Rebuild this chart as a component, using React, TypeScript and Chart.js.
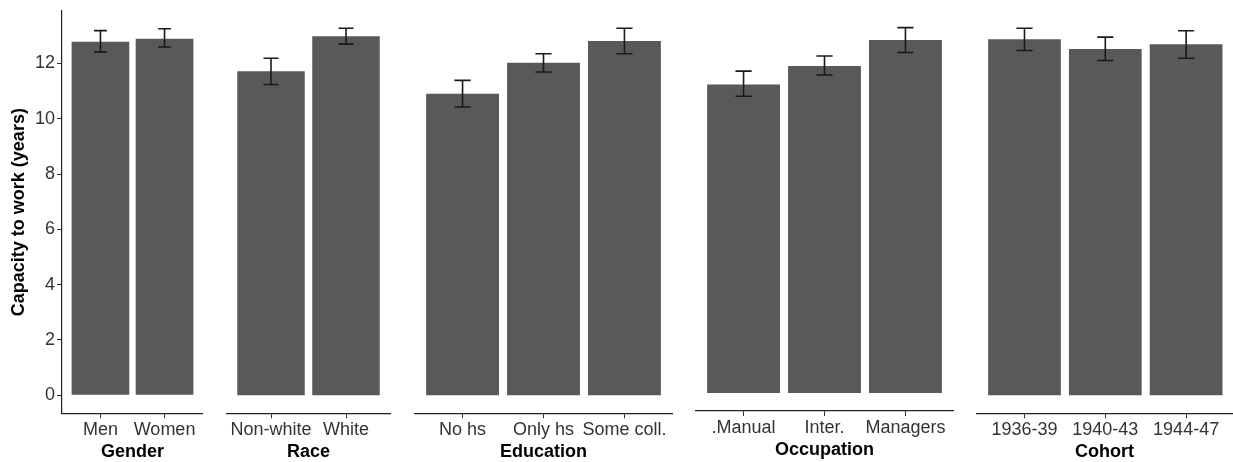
import React, { useEffect, useRef } from "react";
import { Chart, registerables } from "chart.js";

Chart.register(...registerables);

// ---------- data ----------
const genderLabels = ["Men", "Women"];
const genderValues = [12.79, 12.9];
const genderLow = [12.42, 12.6];
const genderHigh = [13.19, 13.26];

const raceLabels = ["Non-white", "White"];
const raceValues = [11.69, 12.95];
const raceLow = [11.21, 12.67];
const raceHigh = [12.16, 13.24];

const educationLabels = ["No hs", "Only hs", "Some coll."];
const educationValues = [10.88, 12.0, 12.78];
const educationLow = [10.4, 11.66, 12.32];
const educationHigh = [11.36, 12.32, 13.24];

const occupationLabels = [".Manual", "Inter.", "Managers"];
const occupationValues = [11.2, 11.87, 12.81];
const occupationLow = [10.77, 11.54, 12.36];
const occupationHigh = [11.68, 12.23, 13.26];

const cohortLabels = ["1936-39", "1940-43", "1944-47"];
const cohortValues = [12.84, 12.49, 12.66];
const cohortLow = [12.44, 12.08, 12.16];
const cohortHigh = [13.24, 12.92, 13.15];

const yTickValues = [0, 2, 4, 6, 8, 10, 12];
const yTitle = "Capacity to work (years)";

// ---------- layout / style ----------
const W = 1233;
const H = 462;
const FONT = "'Liberation Sans', Arial, Helvetica, sans-serif";
const Y_MIN = -0.655;
const Y_MAX = 13.9;

type PanelCfg = {
  title: string;
  labels: string[];
  values: number[];
  low: number[];
  high: number[];
  left: number;
  width: number;
  areaBottom: number;
  xMax: number;
  showY: boolean;
  titlePad: number;
};

const panels: PanelCfg[] = [
  { title: "Gender", labels: genderLabels, values: genderValues, low: genderLow, high: genderHigh, left: 0, width: 203, areaBottom: 413.3, xMax: 1.6, showY: true, titlePad: 1 },
  { title: "Race", labels: raceLabels, values: raceValues, low: raceLow, high: raceHigh, left: 226, width: 165, areaBottom: 413.3, xMax: 1.6, showY: false, titlePad: 1 },
  { title: "Education", labels: educationLabels, values: educationValues, low: educationLow, high: educationHigh, left: 414, width: 259, areaBottom: 413.3, xMax: 2.6, showY: false, titlePad: 1 },
  { title: "Occupation", labels: occupationLabels, values: occupationValues, low: occupationLow, high: occupationHigh, left: 695, width: 259, areaBottom: 411, xMax: 2.6, showY: false, titlePad: 3 },
  { title: "Cohort", labels: cohortLabels, values: cohortValues, low: cohortLow, high: cohortHigh, left: 976, width: 257, areaBottom: 413.3, xMax: 2.58, showY: false, titlePad: 1 },
];

const errorBarPlugin = {
  id: "errorBars",
  afterDatasetsDraw(chart: any) {
    const cfg: PanelCfg = chart.options.plugins.errorBars.cfg;
    const xs = chart.scales.x;
    const ys = chart.scales.y;
    const ctx = chart.ctx;
    ctx.save();
    ctx.strokeStyle = "#1a1a1a";
    ctx.lineWidth = 1.6;
    cfg.labels.forEach((_, i) => {
      const xc = xs.getPixelForValue(i);
      const x0 = xs.getPixelForValue(i - 0.1);
      const x1 = xs.getPixelForValue(i + 0.1);
      const yl = ys.getPixelForValue(cfg.low[i]);
      const yh = ys.getPixelForValue(cfg.high[i]);
      ctx.beginPath();
      ctx.moveTo(xc, yl);
      ctx.lineTo(xc, yh);
      ctx.moveTo(x0, yl);
      ctx.lineTo(x1, yl);
      ctx.moveTo(x0, yh);
      ctx.lineTo(x1, yh);
      ctx.stroke();
    });
    ctx.restore();
  },
};

function Panel({ cfg }: { cfg: PanelCfg }) {
  const ref = useRef<HTMLCanvasElement | null>(null);
  useEffect(() => {
    if (!ref.current) return;
    const chart = new Chart(ref.current, {
      type: "bar",
      data: {
        datasets: [
          {
            data: cfg.values.map((v, i) => ({ x: i, y: v })),
            backgroundColor: "#595959",
            borderWidth: 0,
            barPercentage: 0.9,
            categoryPercentage: 1,
          },
        ],
      },
      plugins: [errorBarPlugin],
      options: {
        responsive: false,
        animation: false,
        devicePixelRatio: 1,
        layout: { padding: { top: 10, left: 0, right: 0, bottom: 0 } },
        plugins: {
          legend: { display: false },
          tooltip: { enabled: false },
          errorBars: { cfg },
        } as any,
        scales: {
          x: {
            type: "linear",
            offset: false,
            min: -0.6,
            max: cfg.xMax,
            afterBuildTicks: (s: any) => {
              s.ticks = cfg.labels.map((_, i) => ({ value: i }));
            },
            afterFit: (s: any) => {
              s.height = H - cfg.areaBottom;
            },
            ticks: {
              callback: (v: any) => cfg.labels[Math.round(Number(v))],
              font: { family: FONT, size: 18, lineHeight: 1 },
              color: "#333333",
              padding: 3,
              maxRotation: 0,
              autoSkip: false,
            },
            grid: { display: true, offset: false, drawOnChartArea: false, drawTicks: true, tickLength: 5, color: "#333333", lineWidth: 1 },
            border: { display: true, color: "#222222", width: 1.2 },
            title: {
              display: true,
              text: cfg.title,
              font: { family: FONT, size: 18, weight: "bold", lineHeight: 1 },
              color: "#000000",
              padding: { top: 0, bottom: cfg.titlePad },
            },
          },
          y: {
            display: cfg.showY,
            min: Y_MIN,
            max: Y_MAX,
            afterBuildTicks: (s: any) => {
              s.ticks = yTickValues.map((v) => ({ value: v }));
            },
            afterFit: (s: any) => {
              s.width = cfg.showY ? 62 : 0;
            },
            ticks: {
              font: { family: FONT, size: 18, lineHeight: 1 },
              color: "#333333",
              padding: 2,
            },
            grid: { display: true, drawOnChartArea: false, drawTicks: true, tickLength: 5, color: "#333333", lineWidth: 1 },
            border: { display: true, color: "#222222", width: 1.2 },
            title: {
              display: true,
              text: yTitle,
              font: { family: FONT, size: 18, weight: "bold", lineHeight: 1 },
              color: "#000000",
              padding: { top: 10, bottom: 0 },
            },
          },
        },
      } as any,
    });
    return () => chart.destroy();
  }, [cfg]);
  return (
    <canvas
      ref={ref}
      width={cfg.width}
      height={H}
      style={{ position: "absolute", left: cfg.left, top: 0, width: cfg.width, height: H }}
    />
  );
}

export default function App() {
  return (
    <div style={{ position: "fixed", left: 0, top: 0, width: W, height: H, background: "#ffffff", overflow: "hidden" }}>
      {panels.map((p) => (
        <Panel key={p.title} cfg={p} />
      ))}
    </div>
  );
}
